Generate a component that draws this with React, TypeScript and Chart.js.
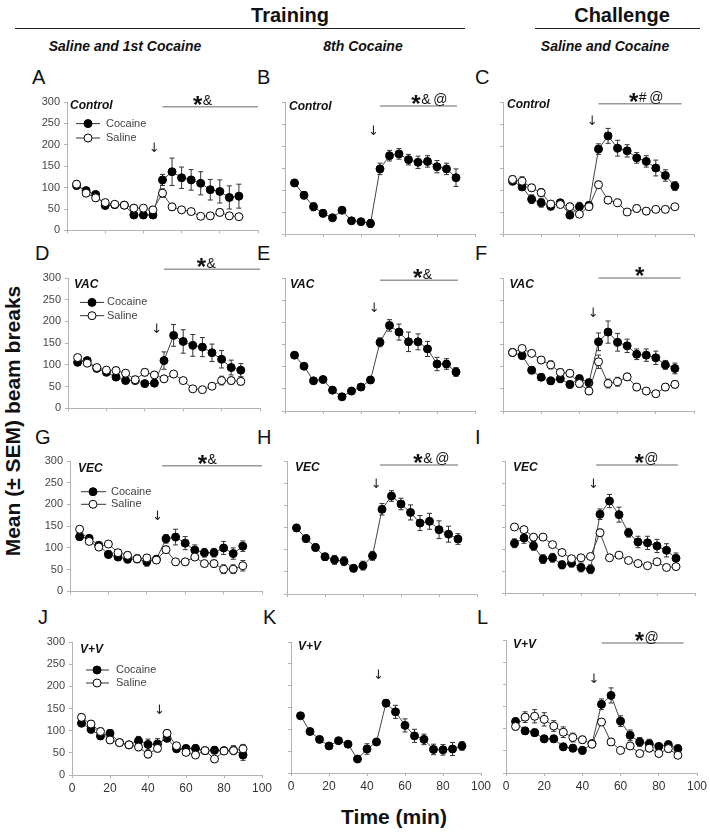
import React, { useEffect, useRef } from "react";
import { Chart, registerables } from "chart.js";

Chart.register(...registerables);

// ---------- DATA ----------
const timeMin = [5, 10, 15, 20, 25, 30, 35, 40, 45, 50, 55, 60, 65, 70, 75, 80, 85, 90];
const xTickStep = 20;
const yTickStep = 50;
const xMax = 100;
const yMax = 300;

// A: Control, Saline and 1st Cocaine
const aCocaine = [105, 93, 84, 58, 60, 59, 36, 36, 36, 118, 137, 123, 118, 110, 95, 91, 77, 80];
const aCocaineSem = [8, 6, 7, 6, 5, 5, 7, 8, 8, 13, 32, 25, 24, 27, 24, 27, 27, 28];
const aSaline = [108, 87, 76, 65, 61, 59, 52, 52, 48, 87, 55, 48, 44, 33, 34, 42, 34, 32];
const aSalineSem = [8, 8, 8, 6, 5, 5, 8, 8, 7, 10, 8, 6, 6, 6, 8, 8, 7, 6];
// B: Control, 8th Cocaine
const bCocaine = [116, 88, 62, 47, 37, 54, 30, 28, 24, 148, 178, 182, 169, 163, 165, 153, 148, 128];
const bCocaineSem = [8, 8, 9, 8, 7, 6, 6, 6, 9, 13, 12, 12, 12, 14, 13, 14, 13, 20];
// C: Control, challenge
const cCocaine = [120, 107, 79, 71, 63, 71, 43, 62, 65, 193, 223, 195, 189, 173, 165, 150, 133, 109];
const cCocaineSem = [8, 8, 10, 10, 8, 7, 8, 10, 8, 12, 17, 18, 14, 12, 13, 18, 13, 10];
const cSaline = [124, 120, 105, 94, 68, 67, 62, 45, 62, 112, 77, 71, 50, 58, 52, 56, 56, 62];
const cSalineSem = [8, 10, 8, 9, 7, 6, 8, 7, 7, 8, 8, 8, 6, 8, 8, 6, 7, 6];
// D: VAC, Saline and 1st Cocaine
const dCocaine = [106, 110, 92, 83, 72, 64, 64, 57, 58, 110, 168, 154, 145, 141, 128, 113, 94, 88];
const dCocaineSem = [7, 6, 6, 6, 7, 6, 7, 7, 7, 20, 25, 27, 25, 22, 20, 20, 17, 15];
const dSaline = [117, 104, 94, 88, 87, 81, 66, 83, 77, 68, 79, 64, 45, 43, 51, 64, 64, 62];
const dSalineSem = [7, 6, 6, 7, 8, 7, 8, 8, 7, 6, 6, 6, 6, 6, 6, 10, 8, 8];
// E: VAC, 8th Cocaine
const eCocaine = [126, 101, 68, 71, 47, 32, 45, 54, 70, 155, 193, 178, 156, 156, 140, 106, 106, 88];
const eCocaineSem = [6, 6, 6, 5, 7, 6, 7, 7, 7, 10, 13, 18, 22, 18, 17, 15, 12, 10];
// F: VAC, challenge
const fCocaine = [132, 125, 92, 76, 68, 73, 60, 73, 64, 156, 178, 155, 147, 128, 126, 120, 104, 96];
const fCocaineSem = [8, 8, 8, 7, 8, 9, 8, 8, 8, 20, 25, 20, 15, 12, 14, 15, 10, 12];
const fSaline = [132, 141, 130, 115, 104, 87, 85, 62, 45, 111, 62, 66, 77, 54, 45, 39, 54, 60];
const fSalineSem = [7, 7, 7, 8, 9, 8, 8, 8, 8, 15, 10, 10, 8, 8, 7, 7, 8, 8];
// G: VEC, Saline and 1st Cocaine
const gCocaine = [126, 122, 106, 85, 79, 74, 75, 68, 74, 121, 125, 111, 95, 89, 89, 100, 87, 104];
const gCocaineSem = [8, 7, 7, 8, 8, 8, 9, 10, 8, 10, 18, 15, 12, 10, 10, 15, 13, 12];
const gSaline = [143, 115, 102, 109, 89, 83, 75, 77, 72, 96, 68, 68, 79, 64, 64, 51, 51, 59];
const gSalineSem = [7, 7, 7, 7, 7, 8, 8, 8, 7, 8, 7, 7, 7, 7, 8, 10, 10, 12];
// H: VEC, 8th Cocaine
const hCocaine = [149, 125, 105, 84, 77, 74, 58, 64, 86, 191, 221, 203, 184, 160, 164, 145, 135, 124];
const hCocaineSem = [8, 8, 8, 8, 10, 10, 8, 10, 10, 13, 12, 13, 17, 17, 18, 20, 18, 12];
// I: VEC, challenge
const iCocaine = [113, 125, 107, 77, 80, 64, 68, 58, 54, 179, 209, 178, 137, 116, 114, 107, 97, 79];
const iCocaineSem = [10, 12, 10, 10, 10, 9, 9, 10, 10, 12, 15, 17, 10, 13, 15, 15, 15, 12];
const iSaline = [150, 144, 127, 127, 110, 92, 78, 80, 83, 137, 80, 86, 74, 67, 62, 71, 58, 60];
const iSalineSem = [6, 6, 6, 6, 6, 6, 6, 6, 6, 8, 6, 6, 6, 6, 6, 6, 6, 6];
// J: V+V, Saline and 1st Cocaine
const jCocaine = [117, 103, 88, 94, 73, 68, 77, 69, 70, 83, 59, 60, 60, 55, 56, 55, 56, 45];
const jCocaineSem = [8, 8, 8, 8, 6, 6, 10, 12, 12, 8, 6, 6, 8, 6, 8, 6, 10, 12];
const jSaline = [130, 115, 98, 79, 73, 68, 63, 47, 60, 94, 66, 51, 45, 55, 36, 54, 55, 59];
const jSalineSem = [8, 8, 8, 8, 6, 6, 8, 8, 8, 8, 6, 6, 6, 6, 6, 6, 8, 10];
// K: V+V, 8th Cocaine
const kCocaine = [131, 95, 77, 62, 74, 66, 32, 55, 71, 160, 140, 109, 85, 77, 54, 53, 55, 62];
const kCocaineSem = [6, 6, 5, 5, 6, 6, 5, 12, 8, 8, 15, 15, 15, 12, 12, 12, 15, 10];
// L: V+V, challenge
const lCocaine = [116, 95, 91, 77, 77, 59, 56, 51, 66, 155, 175, 117, 85, 70, 66, 60, 64, 55];
const lCocaineSem = [8, 8, 8, 8, 8, 8, 8, 8, 8, 12, 17, 12, 12, 10, 10, 6, 8, 8];
const lSaline = [105, 126, 128, 121, 106, 92, 80, 75, 65, 115, 70, 51, 61, 44, 56, 44, 55, 40];
const lSalineSem = [8, 12, 15, 15, 12, 12, 10, 8, 8, 8, 8, 6, 8, 6, 8, 6, 8, 6];

// ---------- STRUCTURE ----------
const FONT = "'Liberation Sans', Arial, Helvetica, sans-serif";

type Series = { name: string; values: number[]; sem: number[]; filled: boolean };
type Sig = { from: number; to: number; y: number; center: number; marks: string };
type PanelDef = {
  letter: string;
  group: string;
  series: Series[];
  sig?: Sig;
  arrow: { x: number; y: number };
};

const coc = (v: number[], s: number[]): Series => ({ name: "Cocaine", values: v, sem: s, filled: true });
const sal = (v: number[], s: number[]): Series => ({ name: "Saline", values: v, sem: s, filled: false });

const panels: PanelDef[] = [
  { letter: "A", group: "Control", series: [sal(aSaline, aSalineSem), coc(aCocaine, aCocaineSem)], sig: { from: 50, to: 100, y: 289, center: 71, marks: "&" }, arrow: { x: 45.6, y: 191 } },
  { letter: "B", group: "Control", series: [coc(bCocaine, bCocaineSem)], sig: { from: 50, to: 90.5, y: 291, center: 76, marks: "&@" }, arrow: { x: 46.5, y: 232 } },
  { letter: "C", group: "Control", series: [sal(cSaline, cSalineSem), coc(cCocaine, cCocaineSem)], sig: { from: 50, to: 93.5, y: 296, center: 75, marks: "#@" }, arrow: { x: 46.7, y: 255 } },
  { letter: "D", group: "VAC", series: [sal(dSaline, dSalineSem), coc(dCocaine, dCocaineSem)], sig: { from: 50, to: 100, y: 320, center: 72, marks: "&" }, arrow: { x: 46.2, y: 181 } },
  { letter: "E", group: "VAC", series: [coc(eCocaine, eCocaineSem)], sig: { from: 50, to: 91, y: 295, center: 72.4, marks: "&" }, arrow: { x: 47, y: 231 } },
  { letter: "F", group: "VAC", series: [sal(fSaline, fSalineSem), coc(fCocaine, fCocaineSem)], sig: { from: 50, to: 93, y: 300, center: 71.5, marks: "" }, arrow: { x: 47.2, y: 219 } },
  { letter: "G", group: "VEC", series: [sal(gSaline, gSalineSem), coc(gCocaine, gCocaineSem)], sig: { from: 48, to: 100, y: 289, center: 71.5, marks: "&" }, arrow: { x: 45.5, y: 173 } },
  { letter: "H", group: "VEC", series: [coc(hCocaine, hCocaineSem)], sig: { from: 49, to: 90, y: 291, center: 76, marks: "&@" }, arrow: { x: 47, y: 247 } },
  { letter: "I", group: "VEC", series: [sal(iSaline, iSalineSem), coc(iCocaine, iCocaineSem)], sig: { from: 48, to: 91, y: 291, center: 74.5, marks: "@" }, arrow: { x: 46.5, y: 247 } },
  { letter: "J", group: "V+V", series: [sal(jSaline, jSalineSem), coc(jCocaine, jCocaineSem)], arrow: { x: 46, y: 145 } },
  { letter: "K", group: "V+V", series: [coc(kCocaine, kCocaineSem)], arrow: { x: 46, y: 222 } },
  { letter: "L", group: "V+V", series: [sal(lSaline, lSalineSem), coc(lCocaine, lCocaineSem)], sig: { from: 50, to: 93, y: 293, center: 73.7, marks: "@" }, arrow: { x: 46, y: 210 } },
];

// ---------- LAYOUT (page pixels) ----------
type Box = { l: number; t: number; r: number; b: number; gdx: number; gdy: number; leg?: { dy1: number; dy2: number; x0: number; x1: number; mx: number; tx: number } };
const boxes: Record<string, Box> = {
  A: { l: 67, t: 102, r: 258, b: 233, gdx: 3, gdy: 7, leg: { dy1: 21.6, dy2: 36, x0: 9, x1: 33, mx: 21, tx: 39 } },
  B: { l: 285, t: 102, r: 475, b: 234, gdx: 4, gdy: 7.5 },
  C: { l: 503, t: 102, r: 694, b: 234, gdx: 4, gdy: 6 },
  D: { l: 68, t: 278, r: 260, b: 411, gdx: 6, gdy: 9.5, leg: { dy1: 24.4, dy2: 37.7, x0: 12, x1: 36, mx: 24, tx: 39 } },
  E: { l: 285, t: 278, r: 475, b: 411, gdx: 5, gdy: 9.5 },
  F: { l: 503, t: 278, r: 694, b: 411, gdx: 6.5, gdy: 9.5 },
  G: { l: 70, t: 461, r: 262, b: 594, gdx: 8, gdy: 10.5, leg: { dy1: 30.7, dy2: 43.3, x0: 11, x1: 36, mx: 23, tx: 41 } },
  H: { l: 287, t: 461, r: 477, b: 594, gdx: 8, gdy: 9.7 },
  I: { l: 505, t: 461, r: 695, b: 593, gdx: 8, gdy: 9.7 },
  J: { l: 72, t: 642, r: 262, b: 775, gdx: 8, gdy: 10.5, leg: { dy1: 28, dy2: 41, x0: 14, x1: 37, mx: 25, tx: 44 } },
  K: { l: 291, t: 642, r: 481, b: 773, gdx: 7, gdy: 8 },
  L: { l: 506, t: 640, r: 697, b: 773, gdx: 7, gdy: 8 },
};

// ---------- PLUGINS ----------
const errorBarPlugin = {
  id: "errorBars",
  beforeDatasetsDraw(chart: any) {
    const ctx = chart.ctx;
    const ys = chart.scales.y;
    chart.data.datasets.forEach((ds: any, i: number) => {
      const meta = chart.getDatasetMeta(i);
      ctx.save();
      ctx.strokeStyle = "#333";
      ctx.lineWidth = 1;
      meta.data.forEach((pt: any, j: number) => {
        const v = ds.data[j].y;
        const e = ds.sem[j];
        const yt = ys.getPixelForValue(v + e);
        const yb = ys.getPixelForValue(v - e);
        ctx.beginPath();
        ctx.moveTo(pt.x, yt);
        ctx.lineTo(pt.x, yb);
        ctx.moveTo(pt.x - 2.5, yt);
        ctx.lineTo(pt.x + 2.5, yt);
        ctx.moveTo(pt.x - 2.5, yb);
        ctx.lineTo(pt.x + 2.5, yb);
        ctx.stroke();
      });
      ctx.restore();
    });
  },
};

const decorPlugin = {
  id: "decor",
  afterDatasetsDraw(chart: any, _args: any, opts: any) {
    if (!opts || !opts.group) return;
    const ctx = chart.ctx;
    const ca = chart.chartArea;
    const xs = chart.scales.x;
    const ys = chart.scales.y;
    ctx.save();
    // group label
    ctx.font = `italic bold 12px ${FONT}`;
    ctx.fillStyle = "#111";
    ctx.textAlign = "left";
    ctx.textBaseline = "alphabetic";
    ctx.fillText(opts.group, ca.left + opts.gdx, ca.top + opts.gdy);
    // injection arrow
    ctx.font = `13px 'DejaVu Sans', sans-serif`;
    ctx.textAlign = "center";
    ctx.textBaseline = "middle";
    ctx.fillStyle = "#222";
    ctx.fillText("\u2193", xs.getPixelForValue(opts.arrow.x), ys.getPixelForValue(opts.arrow.y));
    // significance bar
    if (opts.sig) {
      const s = opts.sig;
      const ly = ys.getPixelForValue(s.y);
      ctx.strokeStyle = "#999";
      ctx.lineWidth = 1.5;
      ctx.beginPath();
      ctx.moveTo(xs.getPixelForValue(s.from), ly);
      ctx.lineTo(xs.getPixelForValue(s.to), ly);
      ctx.stroke();
      const starFont = `bold 24px ${FONT}`;
      const restFont = `14px ${FONT}`;
      ctx.font = starFont;
      const sw = ctx.measureText("*").width;
      ctx.font = restFont;
      const rest = s.marks.split("").join("\u2009");
      const rw = rest ? ctx.measureText(rest).width : 0;
      const gap = rest ? 0.5 : 0;
      const total = sw + gap + rw;
      const x0 = xs.getPixelForValue(s.center) - total / 2;
      ctx.textAlign = "left";
      ctx.textBaseline = "alphabetic";
      ctx.fillStyle = "#111";
      ctx.font = starFont;
      ctx.fillText("*", x0, ly + 6);
      if (rest) {
        ctx.font = restFont;
        ctx.fillText(rest, x0 + sw + gap, ly - 1.5);
      }
    }
    // legend
    if (opts.leg) {
      const lg = opts.leg;
      const items = [
        { name: opts.names[1], filled: true, dy: lg.dy1 },
        { name: opts.names[0], filled: false, dy: lg.dy2 },
      ];
      items.forEach((it) => {
        const y = ca.top + it.dy;
        ctx.strokeStyle = "#333";
        ctx.lineWidth = 1;
        ctx.beginPath();
        ctx.moveTo(ca.left + lg.x0, y);
        ctx.lineTo(ca.left + lg.x1, y);
        ctx.stroke();
        ctx.beginPath();
        ctx.arc(ca.left + lg.mx, y, 4, 0, Math.PI * 2);
        ctx.fillStyle = it.filled ? "#000" : "#fff";
        ctx.fill();
        ctx.strokeStyle = "#000";
        ctx.stroke();
        ctx.font = `11px ${FONT}`;
        ctx.fillStyle = "#444";
        ctx.textAlign = "left";
        ctx.textBaseline = "middle";
        ctx.fillText(it.name, ca.left + lg.tx, y);
      });
    }
    ctx.restore();
  },
};

// ---------- PANEL ----------
const PAD_TOP = 34;
const PAD_RIGHT = 14;

function Panel({ def, col, row }: { def: PanelDef; col: number; row: number }) {
  const ref = useRef<HTMLCanvasElement | null>(null);
  const box = boxes[def.letter];
  const yW = col === 0 ? 40 : 10;
  const xH = row === 3 ? 24 : 8;
  const w = yW + (box.r - box.l) + PAD_RIGHT;
  const h = PAD_TOP + (box.b - box.t) + xH;

  useEffect(() => {
    const canvas = ref.current;
    if (!canvas) return;
    const datasets = def.series.map((s) => ({
      label: s.name,
      data: timeMin.map((t, i) => ({ x: t, y: s.values[i] })),
      sem: s.sem,
      borderColor: "#444",
      borderWidth: 1,
      pointRadius: 4,
      pointHoverRadius: 4,
      pointBorderWidth: 1,
      pointBackgroundColor: s.filled ? "#000" : "#fff",
      pointBorderColor: "#000",
      tension: 0,
      clip: false,
    }));
    const chart = new Chart(canvas, {
      type: "line",
      data: { datasets } as any,
      options: {
        responsive: false,
        animation: false,
        devicePixelRatio: 1,
        layout: { padding: { top: PAD_TOP, right: PAD_RIGHT, left: 0, bottom: 0 }, autoPadding: false } as any,
        plugins: {
          legend: { display: false },
          tooltip: { enabled: false },
          decor: {
            group: def.group,
            gdx: box.gdx,
            gdy: box.gdy,
            arrow: def.arrow,
            sig: def.sig,
            leg: col === 0 ? box.leg : undefined,
            names: def.series.map((s) => s.name),
          },
        } as any,
        scales: {
          x: {
            type: "linear",
            min: 0,
            max: xMax,
            afterFit: (s: any) => {
              s.height = xH;
            },
            ticks: {
              stepSize: xTickStep,
              display: row === 3,
              color: "#333",
              font: { family: FONT, size: 12 },
              padding: 3,
              maxRotation: 0,
            },
            grid: { drawOnChartArea: false, drawTicks: true, tickLength: 3, color: "#b3b3b3" },
            border: { display: true, color: "#b3b3b3", width: 1 },
          },
          y: {
            type: "linear",
            min: 0,
            max: yMax,
            afterFit: (s: any) => {
              s.width = yW;
            },
            ticks: {
              stepSize: yTickStep,
              display: col === 0,
              color: "#444",
              font: { family: FONT, size: 11 },
              padding: 4,
            },
            grid: { drawOnChartArea: false, drawTicks: true, tickLength: 3, color: "#b3b3b3" },
            border: { display: true, color: "#b3b3b3", width: 1 },
          },
        },
      } as any,
      plugins: [errorBarPlugin, decorPlugin],
    });
    return () => chart.destroy();
  }, []);

  return (
    <canvas
      ref={ref}
      width={w}
      height={h}
      style={{ position: "absolute", left: box.l - yW, top: box.t - PAD_TOP, width: w, height: h }}
    />
  );
}

// ---------- APP ----------
const letterTops = [67, 243, 427, 607];
const letterLefts: Record<string, number> = { A: 32, B: 257, C: 475, D: 35, E: 257, F: 475, G: 35, H: 257, I: 475, J: 38, K: 263, L: 477 };

export default function App() {
  const txt = (s: React.CSSProperties): React.CSSProperties => ({
    position: "absolute",
    fontFamily: FONT,
    color: "#111",
    whiteSpace: "nowrap",
    lineHeight: 1,
    ...s,
  });
  return (
    <div style={{ position: "absolute", left: 0, top: 0, width: 710, height: 835, background: "#fff", overflow: "hidden" }}>
      {/* headers */}
      <div style={txt({ left: 290, top: 5, fontSize: 20, fontWeight: "bold", transform: "translateX(-50%)" })}>Training</div>
      <div style={{ position: "absolute", left: 15, top: 28, width: 450, height: 0, borderTop: "1.5px solid #222" }} />
      <div style={txt({ left: 622, top: 5, fontSize: 20, fontWeight: "bold", transform: "translateX(-50%)" })}>Challenge</div>
      <div style={{ position: "absolute", left: 535, top: 28, width: 165, height: 0, borderTop: "1.5px solid #222" }} />
      <div style={txt({ left: 125, top: 39, fontSize: 14, fontWeight: "bold", fontStyle: "italic", transform: "translateX(-50%)" })}>Saline and 1st Cocaine</div>
      <div style={txt({ left: 363, top: 39, fontSize: 14, fontWeight: "bold", fontStyle: "italic", transform: "translateX(-50%)" })}>8th Cocaine</div>
      <div style={txt({ left: 605, top: 39, fontSize: 14, fontWeight: "bold", fontStyle: "italic", transform: "translateX(-50%)" })}>Saline and Cocaine</div>

      {panels.map((p, i) => (
        <div key={"L" + p.letter} style={txt({ left: letterLefts[p.letter], top: letterTops[Math.floor(i / 3)], fontSize: 20 })}>
          {p.letter}
        </div>
      ))}

      {panels.map((p, i) => (
        <Panel key={p.letter} def={p} col={i % 3} row={Math.floor(i / 3)} />
      ))}

      {/* axis titles */}
      <div
        style={txt({
          left: 12,
          top: 421,
          fontSize: 21,
          fontWeight: "bold",
          transform: "translate(-50%, -50%) rotate(-90deg)",
        })}
      >
        Mean (± SEM) beam breaks
      </div>
      <div style={txt({ left: 394, top: 806, fontSize: 21, fontWeight: "bold", transform: "translateX(-50%)" })}>Time (min)</div>
    </div>
  );
}
